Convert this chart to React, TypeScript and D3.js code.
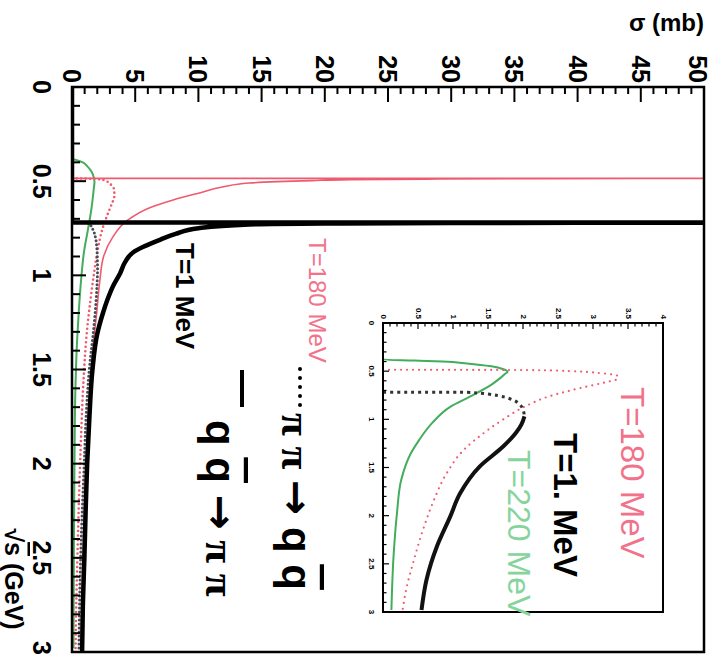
import React from 'react';
import * as d3 from 'd3';

// ---------- axis ticks / labels ----------
const SQRT_S_TICKS = [0, 0.5, 1, 1.5, 2, 2.5, 3];
const SQRT_S_LABELS = ['0', '0.5', '1', '1.5', '2', '2.5', '3'];
const SIGMA_TICKS = [0, 5, 10, 15, 20, 25, 30, 35, 40, 45, 50];
const SIGMA_LABELS = ['0', '5', '10', '15', '20', '25', '30', '35', '40', '45', '50'];
const INSET_SIGMA_TICKS = [0, 0.5, 1, 1.5, 2, 2.5, 3, 3.5, 4];
const INSET_SIGMA_LABELS = ['0', '0.5', '1', '1.5', '2', '2.5', '3', '3.5', '4'];
const INSET_SQRT_S_TICKS = [0, 0.5, 1, 1.5, 2, 2.5, 3];
const INSET_SQRT_S_LABELS = ['0', '0.5', '1', '1.5', '2', '2.5', '3'];

// ---------- series: [sqrt(s) GeV, sigma mb] ----------
// q qbar -> pi pi, T = 1 MeV (black solid)
const QQ_PIPI_T1: [number, number][] = [
  [0, 0], [0.72, 0], [0.7201, 60], [0.721, 45], [0.722, 30], [0.725, 20], [0.73, 14],
  [0.75, 10], [0.78, 8.2], [0.81, 7], [0.85, 5.6], [0.88, 4.8], [0.93, 4.2], [0.99, 3.8],
  [1.05, 3.3], [1.13, 2.8], [1.2, 2.45], [1.31, 2.0], [1.5, 1.62], [1.75, 1.38],
  [2.0, 1.2], [2.25, 1.08], [2.5, 0.98], [2.75, 0.86], [3.0, 0.8],
];
// pi pi -> q qbar, T = 1 MeV (black dotted)
const PIPI_QQ_T1: [number, number][] = [
  [0.72, 0], [0.7201, 1.2], [0.73, 1.4], [0.76, 1.68], [0.8, 1.86], [0.85, 1.96], [0.9, 2.0],
  [0.97, 2.02], [1.05, 1.98], [1.14, 1.9], [1.28, 1.72], [1.49, 1.38], [1.77, 1.1],
  [2.01, 0.96], [2.32, 0.77], [2.67, 0.62], [2.98, 0.55],
];
// q qbar -> pi pi, T = 180 MeV (red solid)
const QQ_PIPI_T180: [number, number][] = [
  [0, 0], [0.485, 0], [0.4851, 60], [0.4855, 45], [0.487, 35], [0.489, 28], [0.492, 22],
  [0.497, 19], [0.51, 14], [0.53, 12], [0.564, 10], [0.6, 8], [0.64, 6.2], [0.71, 4.35],
  [0.8, 3.2], [0.9, 2.5], [1.03, 2.2], [1.2, 1.95], [1.38, 1.66], [1.6, 1.4], [2.0, 1.1],
  [2.5, 0.85], [3.0, 0.7],
];
// pi pi -> q qbar, T = 180 MeV (red dotted)
const PIPI_QQ_T180: [number, number][] = [
  [0.485, 0], [0.487, 1.5], [0.49, 2.2], [0.5, 2.7], [0.52, 3.1], [0.55, 3.35], [0.58, 3.35],
  [0.62, 3.15], [0.67, 2.85], [0.76, 2.38], [0.87, 2.02], [1.0, 1.72], [1.11, 1.5],
  [1.32, 1.15], [1.56, 0.91], [1.87, 0.71], [2.15, 0.57], [2.49, 0.43], [2.77, 0.33], [2.98, 0.28],
];
// T = 220 MeV (green solid)
const CURVE_T220: [number, number][] = [
  [0, 0], [0.38, 0], [0.39, 0.45], [0.4, 0.85], [0.42, 1.2], [0.45, 1.55], [0.48, 1.72],
  [0.505, 1.78], [0.53, 1.74], [0.58, 1.66], [0.64, 1.55], [0.765, 1.24], [0.87, 0.96],
  [1.04, 0.7], [1.21, 0.52], [1.35, 0.4], [1.63, 0.26], [1.97, 0.2], [2.43, 0.15], [2.98, 0.12],
];

const RED = '#ef5a6e';
const RED_TXT = '#f2728a';
const GREEN = '#43ad5c';
const GREEN_TXT = '#86d49c';
const SANS = 'Liberation Sans, Arial, Helvetica, sans-serif';
const SERIF = 'Liberation Serif, Times New Roman, serif';
const ARROW = 'DejaVu Sans, sans-serif';

export default function App() {
  // main plot (rotated: sqrt(s) runs downward, sigma runs rightward)
  const sy = d3.scaleLinear().domain([0, 3]).range([87, 652]);
  const sx = d3.scaleLinear().domain([0, 50]).range([72, 704]);
  // inset
  const iy = d3.scaleLinear().domain([0, 3]).range([323, 612]);
  const ix = d3.scaleLinear().domain([0, 4]).range([383, 663]);

  const curve = d3.curveMonotoneY;
  const mainLine = d3.line<[number, number]>().x(d => sx(d[1])).y(d => sy(d[0])).curve(curve);
  const insetLine = d3.line<[number, number]>().x(d => ix(d[1])).y(d => iy(d[0])).curve(curve);

  const mainTopTicks = d3.range(0, 51);
  const mainLeftTicks = d3.range(0, 31);
  const insetTopTicks = d3.range(0, 41);
  const insetLeftTicks = d3.range(0, 31);

  const insetBlackDotted = PIPI_QQ_T1.filter(d => d[0] <= 0.97);
  const insetBlackSolid = PIPI_QQ_T1.filter(d => d[0] >= 0.97);

  return (
    <svg width={717} height={661} style={{ position: 'absolute', left: 0, top: 0, display: 'block', background: '#fff' }}>
      <defs>
        <clipPath id="mainClip">
          <rect x={72} y={87} width={632} height={565} />
        </clipPath>
        <clipPath id="insetClip">
          <rect x={383} y={323} width={280} height={289} />
        </clipPath>
      </defs>
      <rect x={0} y={0} width={717} height={661} fill="#fff" />

      {/* ---------- main curves ---------- */}
      <g clipPath="url(#mainClip)" fill="none">
        <path d={mainLine(CURVE_T220) || ''} stroke={GREEN} strokeWidth={2} />
        <path d={mainLine(PIPI_QQ_T180) || ''} stroke={RED} strokeWidth={2.6} strokeDasharray="0,4.5" strokeLinecap="round" />
        <path d={mainLine(QQ_PIPI_T180) || ''} stroke={RED} strokeWidth={1.6} />
        <path d={mainLine(PIPI_QQ_T1) || ''} stroke="#4a4a55" strokeWidth={3} strokeDasharray="0,4" strokeLinecap="round" />
        <path d={mainLine(QQ_PIPI_T1) || ''} stroke="#000" strokeWidth={4.5} />
      </g>

      {/* ---------- main frame & ticks ---------- */}
      <rect x={72} y={87} width={632} height={565} fill="none" stroke="#000" strokeWidth={2.5} />
      <g stroke="#000" strokeWidth={2}>
        {mainTopTicks.map(i => (
          <line key={'mt' + i} x1={sx(i)} x2={sx(i)} y1={87} y2={87 + (i % 5 === 0 ? 15 : 7)} />
        ))}
        {mainLeftTicks.map(i => (
          <line key={'ml' + i} x1={72} x2={72 + (i % 5 === 0 ? 14 : 8)} y1={sy(i / 10)} y2={sy(i / 10)} />
        ))}
      </g>

      {/* sigma and sqrt(s) tick labels (rotated) */}
      <g fontFamily={SANS} fontWeight="bold" fontSize={25} fill="#000">
        {SIGMA_TICKS.map((v, i) => (
          <text key={'sl' + i} transform={`translate(${Math.min(sx(v), 698)},83) rotate(90)`} textAnchor="end" dominantBaseline="central">
            {SIGMA_LABELS[i]}
          </text>
        ))}
        {SQRT_S_TICKS.map((v, i) => (
          <text key={'ql' + i} transform={`translate(42,${Math.min(Math.max(sy(v), 86), 648)}) rotate(90)`} textAnchor="middle" dominantBaseline="central">
            {SQRT_S_LABELS[i]}
          </text>
        ))}
      </g>

      {/* axis titles */}
      <text x={704} y={31} textAnchor="end" fontFamily={SANS} fontWeight="bold" fontSize={24} fill="#000">σ (mb)</text>
      <text transform="translate(14,579) rotate(90)" textAnchor="middle" dominantBaseline="central" fontFamily={SANS} fontWeight="bold" fontSize={25} fill="#000">
        √<tspan style={{ textDecoration: 'overline' }}>s</tspan> (GeV)
      </text>

      {/* main annotations */}
      <text transform="translate(309,238) rotate(90)" fontFamily={SANS} fontSize={24} fill={RED_TXT}>T=180 MeV</text>
      <text transform="translate(176,243) rotate(90)" fontFamily={SANS} fontWeight="bold" fontSize={26} fill="#000">T=1 MeV</text>

      {/* legend: pi pi -> q qbar (dotted) */}
      <line x1={300} x2={300} y1={369} y2={407} stroke="#000" strokeWidth={4} strokeDasharray="0,9" strokeLinecap="round" />
      <text transform="translate(282,413) rotate(90)" fontSize={42} fill="#000">
        <tspan fontFamily={SERIF} fontWeight="bold">π π </tspan>
        <tspan fontFamily={ARROW} fontWeight="bold">→</tspan>
        <tspan fontFamily={SANS} fontWeight="bold"> q </tspan>
        <tspan fontFamily={SANS} fontWeight="bold" style={{ textDecoration: 'overline' }}>q</tspan>
      </text>
      {/* legend: q qbar -> pi pi (solid) */}
      <line x1={242} x2={242} y1={370} y2={407} stroke="#000" strokeWidth={4} />
      <text transform="translate(206,420) rotate(90)" fontSize={42} fill="#000">
        <tspan fontFamily={SANS} fontWeight="bold">q </tspan>
        <tspan fontFamily={SANS} fontWeight="bold" style={{ textDecoration: 'overline' }}>q</tspan>
        <tspan fontFamily={SANS} fontWeight="bold"> </tspan>
        <tspan fontFamily={ARROW} fontWeight="bold">→</tspan>
        <tspan fontFamily={SERIF} fontWeight="bold"> π π</tspan>
      </text>

      {/* ---------- inset ---------- */}
      <rect x={383} y={323} width={280} height={289} fill="#fff" />
      <g clipPath="url(#insetClip)" fill="none">
        <path d={insetLine(CURVE_T220) || ''} stroke={GREEN} strokeWidth={2} />
        <path d={insetLine(PIPI_QQ_T180) || ''} stroke={RED} strokeWidth={2.2} strokeDasharray="0,6" strokeLinecap="round" />
        <path d={insetLine(insetBlackDotted) || ''} stroke="#333" strokeWidth={3} strokeDasharray="3,4" />
        <path d={insetLine(insetBlackSolid) || ''} stroke="#111" strokeWidth={4} />
      </g>
      <rect x={383} y={323} width={280} height={289} fill="none" stroke="#000" strokeWidth={2} />
      <g stroke="#000" strokeWidth={1.2}>
        {insetTopTicks.map(i => (
          <line key={'it' + i} x1={ix(i / 10)} x2={ix(i / 10)} y1={323} y2={323 + (i % 5 === 0 ? 6 : 3.5)} />
        ))}
        {insetLeftTicks.map(i => (
          <line key={'il' + i} x1={383} x2={383 + (i % 5 === 0 ? 6 : 3.5)} y1={iy(i / 10)} y2={iy(i / 10)} />
        ))}
      </g>
      <g fontFamily={SANS} fontWeight="bold" fontSize={8} fill="#000">
        {INSET_SIGMA_TICKS.map((v, i) => (
          <text key={'isl' + i} transform={`translate(${ix(v)},319) rotate(90)`} textAnchor="end" dominantBaseline="central">
            {INSET_SIGMA_LABELS[i]}
          </text>
        ))}
        {INSET_SQRT_S_TICKS.map((v, i) => (
          <text key={'iql' + i} transform={`translate(371,${iy(v)}) rotate(90)`} textAnchor="middle" dominantBaseline="central">
            {INSET_SQRT_S_LABELS[i]}
          </text>
        ))}
      </g>
      <text transform="translate(621,387) rotate(90)" fontFamily={SANS} fontSize={33} fill={RED_TXT}>T=180 MeV</text>
      <text transform="translate(554,433) rotate(90)" fontFamily={SANS} fontWeight="bold" fontSize={33} fill="#000">T=1. MeV</text>
      <text transform="translate(508,450) rotate(90)" fontFamily={SANS} fontSize={32} fill={GREEN_TXT}>T=220 MeV</text>
    </svg>
  );
}
